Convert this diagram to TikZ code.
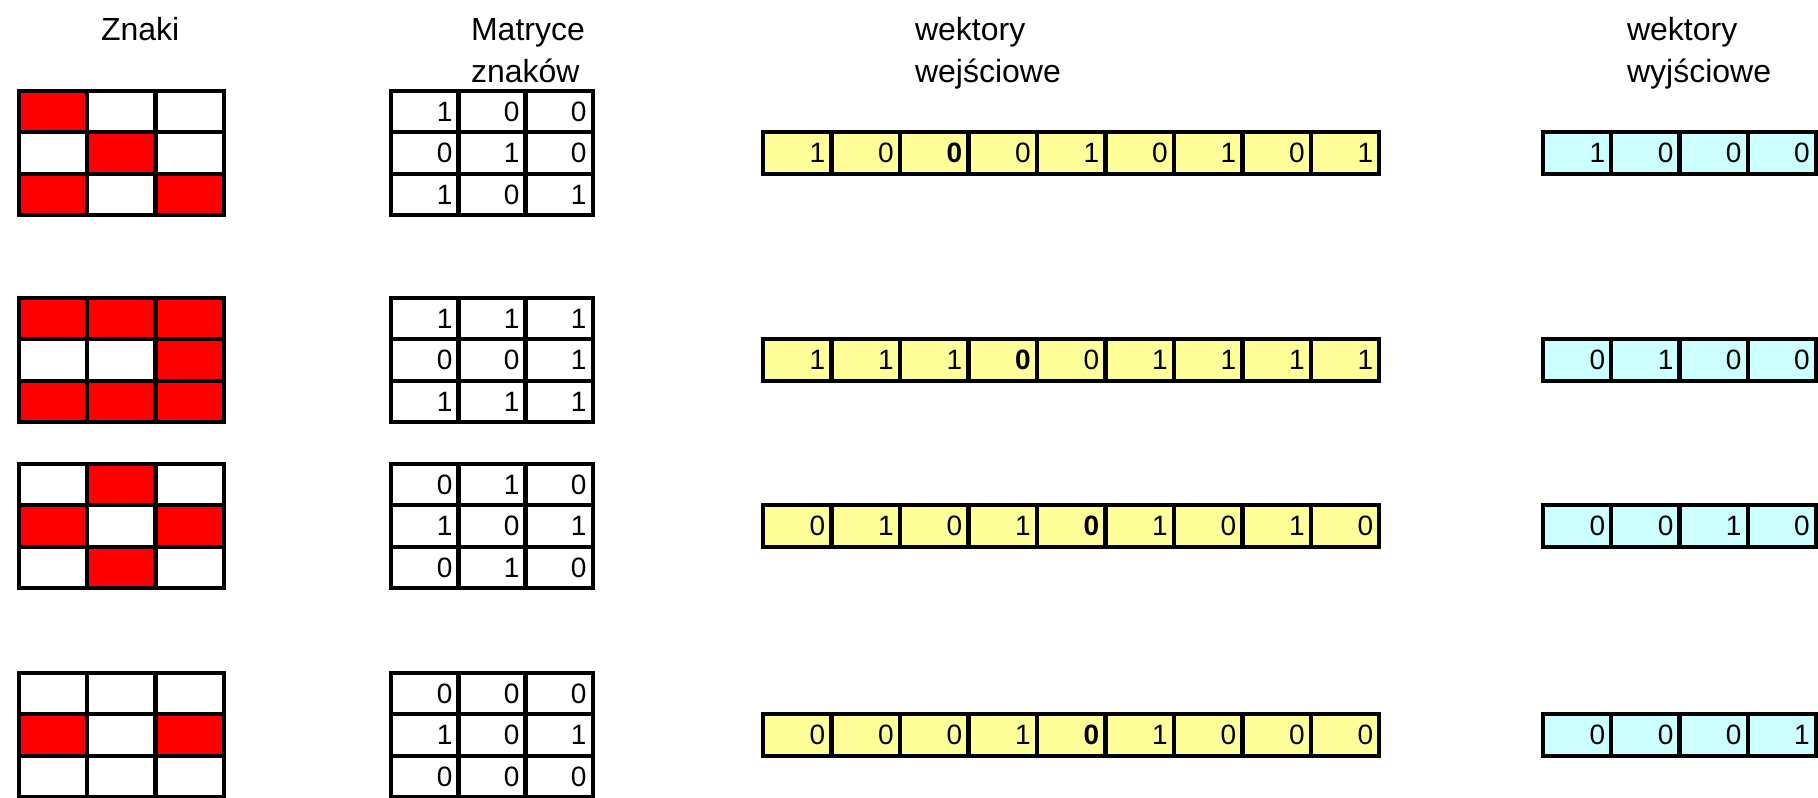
\documentclass[tikz,border=0pt]{standalone}
\usepackage{fontspec}
\setmainfont{Liberation Sans}
\usetikzlibrary{positioning}
\definecolor{znak}{RGB}{255,0,0}
\definecolor{wejscie}{RGB}{255,255,153}
\definecolor{wyjscie}{RGB}{204,255,255}
\tikzset{
  kratka/.style={draw, line width=2pt, minimum width=34pt, minimum height=20.7pt, inner sep=0pt, outer sep=0pt},
  liczba/.style={kratka, text width=28pt, align=right, inner xsep=3pt, font=\fontsize{14}{14}\selectfont},
  naglowek/.style={anchor=base west, align=left, font=\fontsize{16}{21}\selectfont},
}

\begin{document}
\begin{tikzpicture}[x=0.5pt,y=-0.5pt]
  \useasboundingbox (0,0) rectangle (1818,797);
  % naglowki kolumn (base = linia bazowa ostatniego wiersza)
  \node[naglowek] (h_znaki) at (94,41) {Znaki};
  \node[naglowek] (h_matryce) at (464,83) {Matryce\\znaków};
  \node[naglowek] (h_wej) at (908,83) {wektory\\wejściowe};
  \node[naglowek] (h_wyj) at (1620,83) {wektory\\wyjściowe};
  % znaki, matryce i wektory
  \foreach \nr/\gora/\bity/\gruby/\wy in {
      1/91/{1,0,0,0,1,0,1,0,1}/2/{1,0,0,0},
      2/298/{1,1,1,0,0,1,1,1,1}/3/{0,1,0,0},
      3/464/{0,1,0,1,0,1,0,1,0}/4/{0,0,1,0},
      4/673/{0,0,0,1,0,1,0,0,0}/4/{0,0,0,1}}{
    \foreach \b [count=\i from 0] in \bity {
      \pgfmathtruncatemacro\w{\i/3}
      \pgfmathtruncatemacro\k{mod(\i,3)}
      \ifnum\b=1 \def\kol{znak}\else\def\kol{white}\fi
      \node[kratka, fill=\kol] (z\nr-\i) at (19+68.3*\k+34.15, \gora+41.4*\w+20.7) {};
      \node[liczba] (m\nr-\i) at (391+67*\k+33.5, \gora+41.4*\w+20.7) {\b};
      \node[liczba, fill=wejscie] (we\nr-\i) at (763+68.5*\i+34.25, \gora+62.1)
        {\ifnum\i=\gruby\textbf{\b}\else\b\fi};
    }
    \foreach \b [count=\j from 0] in \wy
      \node[liczba, fill=wyjscie] (wy\nr-\j) at (1543+68.2*\j+34.1, \gora+62.1) {\b};
  }
\end{tikzpicture}
\end{document}
